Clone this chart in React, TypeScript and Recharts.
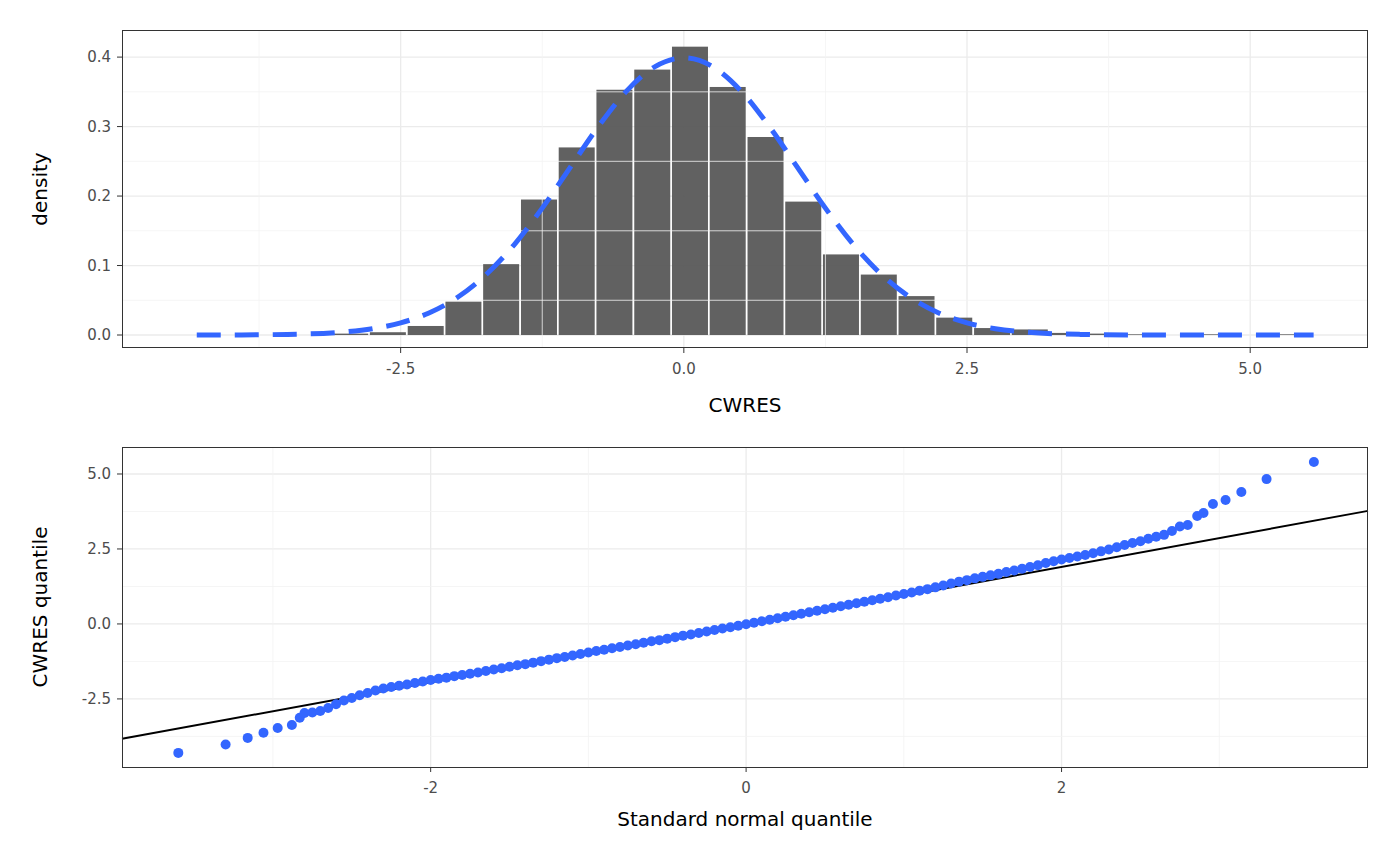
import React from "react";
import { ComposedChart, ScatterChart, Bar, Line, Scatter, XAxis, YAxis, CartesianGrid, ReferenceLine } from "recharts";

const binCenters = [-2.947,-2.614,-2.28,-1.947,-1.614,-1.28,-0.947,-0.614,-0.28,0.053,0.386,0.72,1.053,1.386,1.72,2.053,2.386,2.72,3.053,3.386,3.72,4.053,4.386,4.72,5.053,5.386];
const binDensity = [0.002,0.004,0.013,0.048,0.102,0.195,0.27,0.353,0.382,0.415,0.357,0.285,0.192,0.116,0.087,0.056,0.025,0.01,0.008,0.003,0.002,0.001,0,0.001,0,0.001];
const curveX = [-4.3,-4,-3.5,-3,-2.75,-2.5,-2.25,-2,-1.75,-1.5,-1.25,-1,-0.75,-0.5,-0.25,0,0.25,0.5,0.75,1,1.25,1.5,1.75,2,2.25,2.5,2.75,3,3.5,4,4.5,5,5.56];
const curveY = [0.00004,0.0001,0.0009,0.0044,0.0091,0.0175,0.0317,0.054,0.0863,0.1295,0.1826,0.242,0.3011,0.3521,0.3867,0.3989,0.3867,0.3521,0.3011,0.242,0.1826,0.1295,0.0863,0.054,0.0317,0.0175,0.0091,0.0044,0.0009,0.0001,0,0,0];
const histTicksX = [-2.5,0,2.5,5];
const histTicksY = [0,0.1,0.2,0.3,0.4];

const qqX = [-3.6,-3.3,-3.16,-3.06,-2.97,-2.88,-2.83,-2.8,-2.75,-2.7,-2.65,-2.6,-2.55,-2.5,-2.45,-2.4,-2.35,-2.3,-2.25,-2.2,-2.15,-2.1,-2.05,-2,-1.95,-1.9,-1.85,-1.8,-1.75,-1.7,-1.65,-1.6,-1.55,-1.5,-1.45,-1.4,-1.35,-1.3,-1.25,-1.2,-1.15,-1.1,-1.05,-1,-0.95,-0.9,-0.85,-0.8,-0.75,-0.7,-0.65,-0.6,-0.55,-0.5,-0.45,-0.4,-0.35,-0.3,-0.25,-0.2,-0.15,-0.1,-0.05,0,0.05,0.1,0.15,0.2,0.25,0.3,0.35,0.4,0.45,0.5,0.55,0.6,0.65,0.7,0.75,0.8,0.85,0.9,0.95,1,1.05,1.1,1.15,1.2,1.25,1.3,1.35,1.4,1.45,1.5,1.55,1.6,1.65,1.7,1.75,1.8,1.85,1.9,1.95,2,2.05,2.1,2.15,2.2,2.25,2.3,2.35,2.4,2.45,2.5,2.55,2.6,2.65,2.7,2.75,2.8,2.86,2.9,2.96,3.04,3.14,3.3,3.6];
const qqY = [-4.3,-4.02,-3.8,-3.63,-3.47,-3.37,-3.13,-2.97,-2.95,-2.9,-2.8,-2.68,-2.55,-2.47,-2.38,-2.3,-2.22,-2.15,-2.1,-2.06,-2.02,-1.97,-1.92,-1.87,-1.83,-1.79,-1.74,-1.7,-1.66,-1.62,-1.57,-1.52,-1.48,-1.43,-1.38,-1.34,-1.29,-1.24,-1.19,-1.14,-1.1,-1.05,-1,-0.95,-0.9,-0.86,-0.81,-0.77,-0.72,-0.68,-0.63,-0.58,-0.54,-0.49,-0.44,-0.39,-0.35,-0.3,-0.25,-0.2,-0.15,-0.11,-0.06,-0.01,0.04,0.09,0.14,0.19,0.24,0.29,0.34,0.39,0.44,0.49,0.54,0.59,0.64,0.69,0.74,0.79,0.84,0.89,0.95,1,1.05,1.11,1.16,1.22,1.28,1.35,1.41,1.46,1.52,1.57,1.62,1.67,1.73,1.78,1.84,1.9,1.96,2.03,2.09,2.15,2.2,2.25,2.3,2.36,2.42,2.48,2.56,2.63,2.7,2.76,2.84,2.91,2.97,3.1,3.25,3.3,3.6,3.7,4.0,4.13,4.4,4.83,5.4,5.43];
const lineX = [-3.957,3.943];
const lineY = [-3.83,3.77];
const qqTicksX = [-2,0,2];
const qqTicksY = [-2.5,0,2.5,5];

const FONT = "DejaVu Sans, sans-serif";
const xTick = { fill: "#4d4d4d", fontSize: 15, fontFamily: FONT, dy: 8 };
const yTick = { fill: "#4d4d4d", fontSize: 15, fontFamily: FONT, dx: -4 };

const histData = [
  ...binCenters.map((x, i) => ({ x, h: binDensity[i] })),
  ...curveX.map((x, i) => ({ x, d: curveY[i] })),
].sort((a, b) => a.x - b.x);
const qqData = qqX.map((x, i) => ({ x, y: qqY[i] }));

const minorStyle = { stroke: "#f2f2f2", strokeWidth: 0.8 };
const BAR_W = 36;

const BarShape = (p: any) => {
  const cx = p.x + p.width / 2;
  if (!p.height || p.height <= 0) return <g />;
  return <rect x={cx - BAR_W / 2} y={p.y} width={BAR_W} height={p.height} fill="#595959" fillOpacity={0.95} />;
};

export default function App() {
  return (
    <div style={{ position: "absolute", left: 0, top: 0, width: 1400, height: 866, background: "#fff", fontFamily: FONT }}>
      <div style={{ position: "absolute", left: 0, top: 0 }}>
        <ComposedChart width={1400} height={433} data={histData} margin={{ top: 30, right: 32, bottom: 0, left: 0 }}>
          {[-3.75,-1.25,1.25,3.75].map(v => <ReferenceLine key={"vx"+v} x={v} {...minorStyle} />)}
          {[0.05,0.15,0.25,0.35].map(v => <ReferenceLine key={"vy"+v} y={v} {...minorStyle} />)}
          <CartesianGrid stroke="#ebebeb" strokeWidth={1.3} verticalValues={histTicksX} horizontalValues={histTicksY} />
          <XAxis dataKey="x" type="number" domain={[-4.96, 6.04]} ticks={histTicksX} tickFormatter={(v) => v.toFixed(1)} allowDataOverflow height={85} axisLine={false} tick={xTick} tickLine={{ stroke: "#333" }} tickSize={5} />
          <YAxis type="number" domain={[-0.0187, 0.439]} ticks={histTicksY} tickFormatter={(v) => v.toFixed(1)} allowDataOverflow width={122} axisLine={false} tick={yTick} tickLine={{ stroke: "#333" }} tickSize={5} />
          <Bar dataKey="h" fill="#595959" shape={BarShape} isAnimationActive={false} />
          <Line dataKey="d" type="monotone" stroke="#3366FF" strokeWidth={5} strokeDasharray="24 14" dot={false} connectNulls isAnimationActive={false} />
        </ComposedChart>
      </div>
      <div style={{ position: "absolute", left: 122, top: 30, width: 1246, height: 318, border: "1px solid #333", boxSizing: "border-box" }} />
      <div style={{ position: "absolute", left: 122, width: 1246, top: 393, textAlign: "center", fontSize: 20 }}>CWRES</div>
      <div style={{ position: "absolute", left: 40, top: 189, transform: "translate(-50%,-50%) rotate(-90deg)", fontSize: 20 }}>density</div>

      <div style={{ position: "absolute", left: 0, top: 433 }}>
        <ScatterChart width={1400} height={433} margin={{ top: 14, right: 32, bottom: 0, left: 0 }}>
          {[-3,-1,1,3].map(v => <ReferenceLine key={"qx"+v} x={v} {...minorStyle} />)}
          {[-3.75,-1.25,1.25,3.75].map(v => <ReferenceLine key={"qy"+v} y={v} {...minorStyle} />)}
          <CartesianGrid stroke="#ebebeb" strokeWidth={1.3} verticalValues={qqTicksX} horizontalValues={qqTicksY} />
          <XAxis dataKey="x" type="number" domain={[-3.957, 3.943]} ticks={qqTicksX} allowDataOverflow height={99} axisLine={false} tick={xTick} tickLine={{ stroke: "#333" }} tickSize={5} />
          <YAxis dataKey="y" type="number" domain={[-4.77, 5.9]} ticks={qqTicksY} tickFormatter={(v) => v.toFixed(1)} allowDataOverflow width={122} axisLine={false} tick={yTick} tickLine={{ stroke: "#333" }} tickSize={5} />
          <Scatter data={qqData} fill="#3366FF" shape={(p: any) => <circle cx={p.cx} cy={p.cy} r={5} fill="#3366FF" />} isAnimationActive={false} />
          <ReferenceLine segment={[{ x: lineX[0], y: lineY[0] }, { x: lineX[1], y: lineY[1] }]} stroke="#000" strokeWidth={2} />
        </ScatterChart>
      </div>
      <div style={{ position: "absolute", left: 122, top: 447, width: 1246, height: 321, border: "1px solid #333", boxSizing: "border-box" }} />
      <div style={{ position: "absolute", left: 122, width: 1246, top: 807, textAlign: "center", fontSize: 20 }}>Standard normal quantile</div>
      <div style={{ position: "absolute", left: 40, top: 607, transform: "translate(-50%,-50%) rotate(-90deg)", fontSize: 20, whiteSpace: "nowrap" }}>CWRES quantile</div>
    </div>
  );
}
